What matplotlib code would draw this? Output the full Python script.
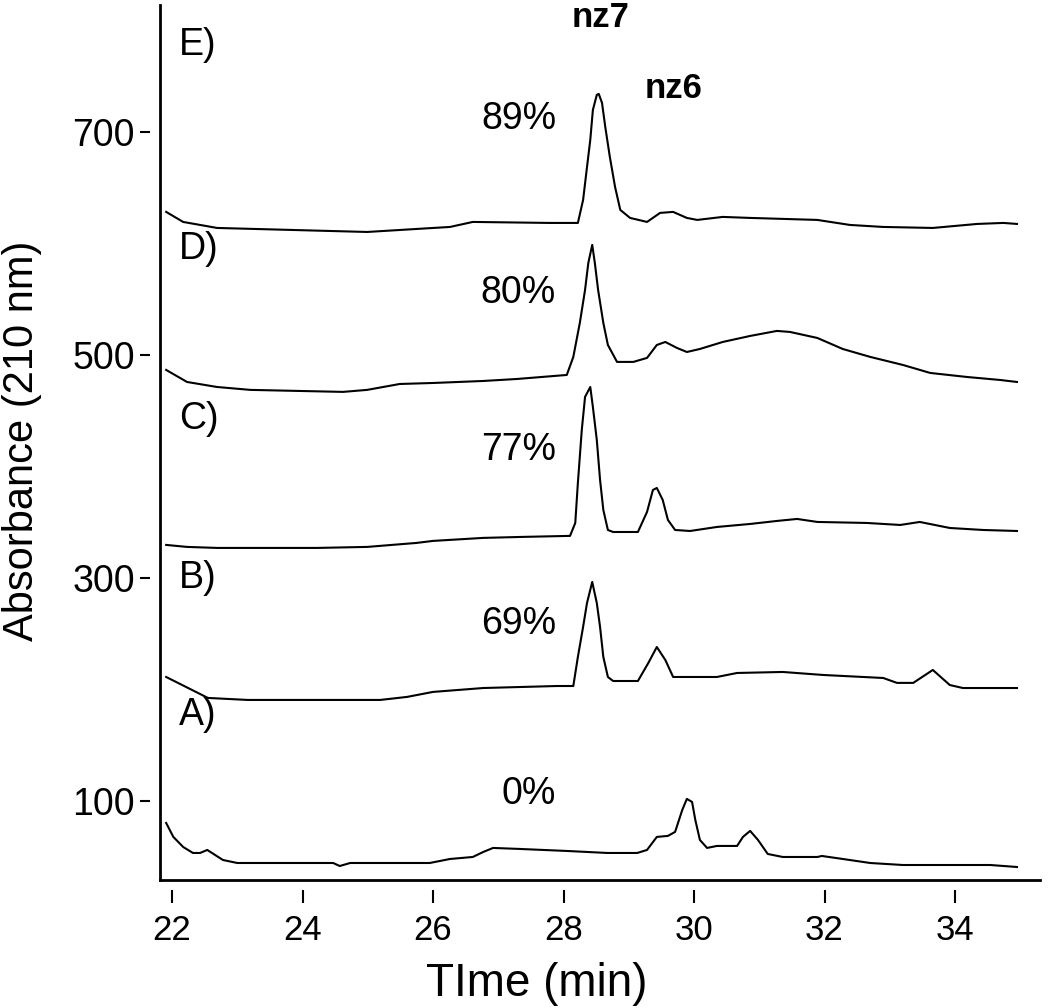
import matplotlib.pyplot as plt

plt.rcParams['font.family'] = ['Liberation Sans', 'DejaVu Sans']

# Chromatogram traces (time in min, absorbance at 210 nm)
time_a = [21.91, 22.02, 22.17, 22.32, 22.43, 22.54, 22.78, 23.00, 24.47, 24.57, 24.73, 25.95,
          26.26, 26.61, 26.77, 26.92, 27.33, 28.05, 28.67, 29.13, 29.28, 29.43, 29.60, 29.71,
          29.82, 29.89, 29.97, 30.02, 30.09, 30.20, 30.35, 30.66, 30.75, 30.86, 30.98, 31.13,
          31.36, 31.89, 31.96, 32.28, 32.70, 33.20, 34.54, 34.95]
abs_a = [79.9, 67.4, 58.4, 53.0, 53.0, 55.7, 46.7, 44.0, 44.0, 41.3, 44.0, 44.0,
         47.6, 49.4, 53.9, 57.5, 56.6, 54.8, 53.0, 53.0, 55.7, 67.4, 68.3, 71.9,
         91.6, 101.5, 98.8, 82.6, 64.7, 57.5, 59.3, 59.3, 67.4, 72.8, 64.7, 52.1,
         49.4, 49.4, 50.3, 47.6, 44.0, 42.2, 42.2, 40.4]

time_b = [21.91, 22.55, 23.16, 25.19, 25.60, 26.00, 26.77, 27.90, 28.15, 28.22, 28.30, 28.36,
          28.44, 28.51, 28.56, 28.61, 28.68, 28.76, 29.14, 29.30, 29.43, 29.56, 29.68, 30.35,
          30.66, 31.36, 31.98, 32.90, 33.11, 33.36, 33.66, 33.92, 34.12, 34.95]
abs_b = [210.9, 192.1, 190.3, 190.3, 193.0, 197.5, 201.0, 202.8, 202.8, 228.9, 255.8, 277.3,
         296.2, 277.3, 255.8, 228.9, 210.9, 207.3, 207.3, 223.5, 237.8, 226.2, 210.9, 210.9,
         214.5, 215.4, 212.7, 210.0, 205.6, 205.6, 217.2, 203.7, 201.0, 201.0]

time_c = [21.91, 22.23, 22.69, 24.22, 24.99, 25.75, 26.00, 26.77, 27.38, 28.10, 28.18, 28.22,
          28.28, 28.33, 28.41, 28.45, 28.51, 28.56, 28.61, 28.68, 28.76, 29.14, 29.28, 29.37,
          29.43, 29.52, 29.60, 29.71, 29.94, 30.35, 30.86, 31.27, 31.58, 31.89, 32.65, 33.16,
          33.46, 33.92, 34.43, 34.95]
abs_c = [329.4, 327.6, 326.7, 326.7, 327.6, 331.2, 333.0, 335.7, 336.6, 337.5, 349.1, 385.0,
         432.6, 462.2, 471.1, 453.2, 423.6, 387.7, 360.8, 342.8, 341.0, 341.0, 359.0, 378.7,
         380.5, 369.8, 351.8, 342.8, 341.9, 345.5, 348.2, 350.9, 352.7, 350.0, 349.1, 347.3,
         350.0, 344.6, 342.8, 341.9]

time_d = [21.91, 22.23, 22.69, 23.20, 24.62, 24.99, 25.49, 26.00, 26.77, 27.29, 28.05, 28.15,
          28.25, 28.33, 28.38, 28.44, 28.48, 28.53, 28.61, 28.68, 28.82, 29.07, 29.28, 29.43,
          29.56, 29.74, 29.89, 30.09, 30.44, 30.86, 31.27, 31.47, 31.89, 32.28, 32.70, 33.20,
          33.62, 34.18, 34.69, 34.95]
abs_d = [486.4, 475.6, 471.1, 468.5, 466.7, 468.5, 473.8, 474.7, 476.5, 478.3, 481.9, 498.1,
         528.6, 558.2, 582.4, 598.6, 582.4, 558.2, 528.6, 508.8, 493.6, 493.6, 497.2, 508.8,
         511.5, 506.1, 502.5, 505.2, 511.5, 516.9, 521.4, 520.5, 515.1, 505.2, 498.1, 490.9,
         483.7, 480.1, 477.4, 475.6]

time_e = [21.91, 22.17, 22.69, 24.99, 25.75, 26.26, 26.61, 27.79, 28.22, 28.30, 28.36, 28.41,
          28.45, 28.51, 28.54, 28.59, 28.64, 28.71, 28.79, 28.87, 29.02, 29.28, 29.48, 29.68,
          29.89, 30.05, 30.44, 30.86, 31.89, 32.39, 32.90, 33.66, 34.34, 34.74, 34.95]
abs_e = [628.2, 619.2, 613.8, 610.2, 612.9, 614.7, 619.2, 618.3, 618.3, 638.9, 668.5, 692.8,
         719.7, 733.2, 734.1, 726.0, 704.4, 677.5, 650.6, 630.0, 622.8, 619.2, 627.3, 628.2,
         622.8, 621.0, 623.7, 622.8, 621.0, 616.5, 614.7, 613.8, 617.4, 618.3, 617.4]

trace_labels = ['A)', 'B)', 'C)', 'D)', 'E)']
trace_label_y = [176.8, 299.8, 442.4, 595.0, 778.0]
purity_labels = ['0%', '69%', '77%', '80%', '89%']
purity_y = [105.5, 258.5, 414.6, 555.5, 711.6]

xticks = [22, 24, 26, 28, 30, 32, 34]
yticks = [100, 300, 500, 700]

fig = plt.figure(figsize=(10.5, 10.08), dpi=100)
ax = fig.add_axes([0.1429, 0.1171, 0.8476, 0.878])

for t, a in [(time_a, abs_a), (time_b, abs_b), (time_c, abs_c), (time_d, abs_d), (time_e, abs_e)]:
    ax.plot(t, a, color='black', lw=1.5)

x0, y0 = 21.816, 28.8
ax.set_xlim(21.663, 35.303)
ax.set_ylim(19.8, 813.9)

# axis lines sit inside the frame so the ticks float detached below/left of them
for s in ax.spines.values():
    s.set_visible(False)
ax.plot([x0, x0], [y0, 813.9], color='black', lw=2, clip_on=False, solid_capstyle='projecting')
ax.plot([x0, 35.303], [y0, y0], color='black', lw=2, clip_on=False, solid_capstyle='projecting')

ax.set_xticks(xticks)
ax.set_yticks(yticks)
ax.tick_params(axis='x', direction='out', length=9, width=1.5, pad=8, labelsize=25)
ax.tick_params(axis='y', direction='out', length=7, width=1.5, pad=4, labelsize=27)

for lab, y in zip(trace_labels, trace_label_y):
    ax.text(22.11, y, lab, fontsize=27, ha='left', va='center')
for lab, y in zip(purity_labels, purity_y):
    ax.text(27.885, y, lab, fontsize=27, ha='right', va='center')

ax.text(28.57, 794.2, 'nz7', fontsize=25, fontweight='bold', ha='center', va='baseline')
ax.text(29.69, 730.5, 'nz6', fontsize=25, fontweight='bold', ha='center', va='baseline')

ax.set_xlabel('TIme (min)', fontsize=33)
ax.set_ylabel('Absorbance (210 nm)', fontsize=30)
ax.xaxis.set_label_coords(0.435, -0.081)
ax.yaxis.set_label_coords(-0.1438, 0.508)
ax.yaxis.label.set_va('center')

fig.savefig('out.png', dpi=100)
